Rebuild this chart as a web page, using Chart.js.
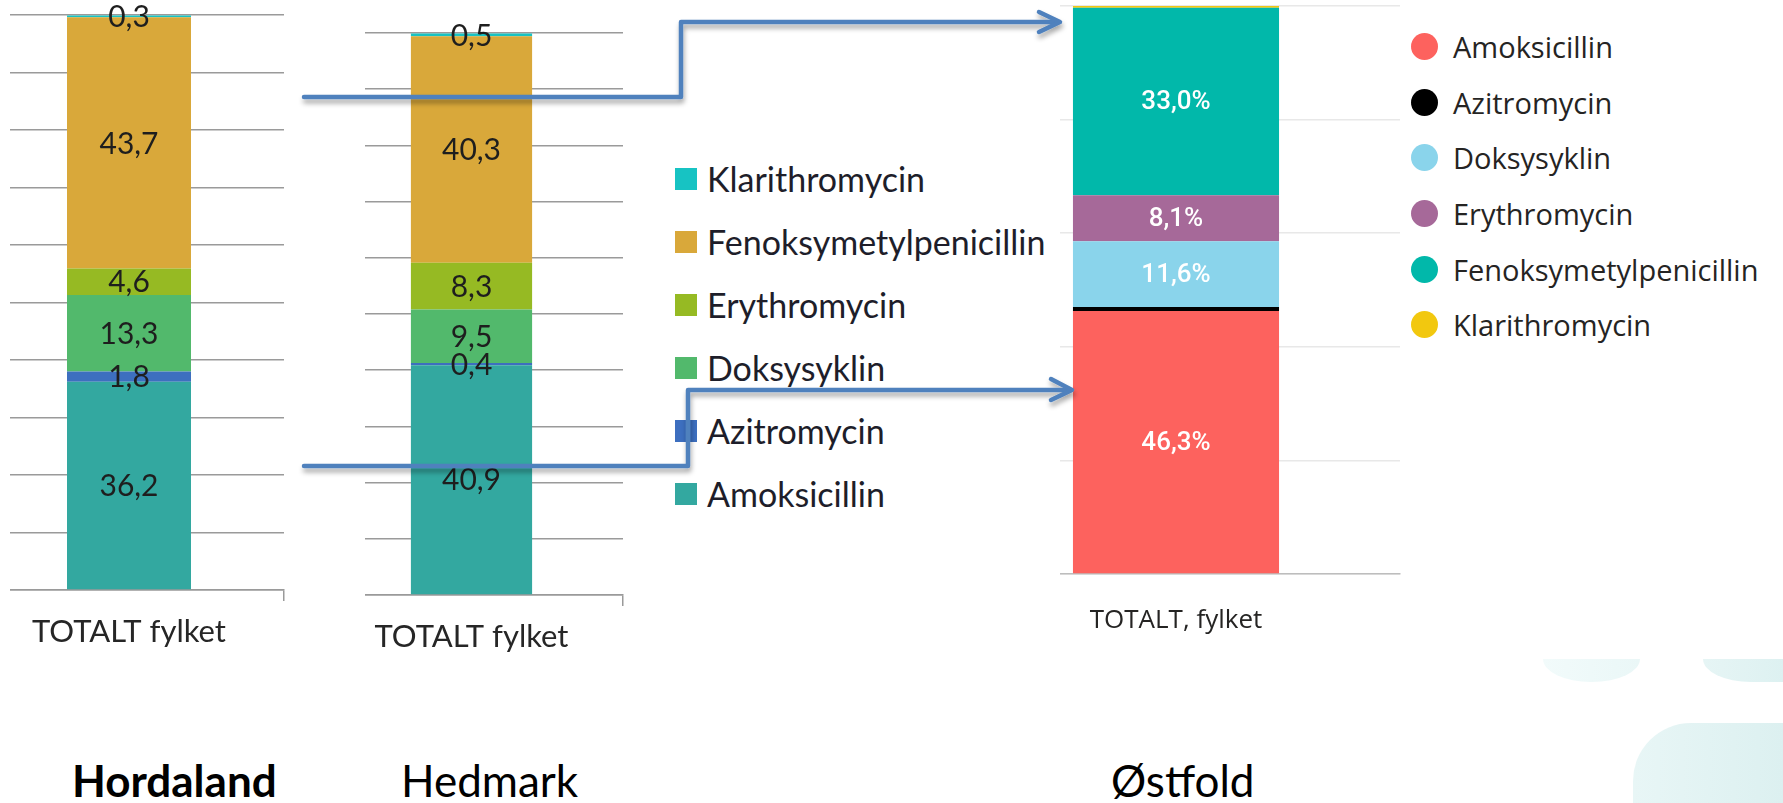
<!DOCTYPE html>
<html>
<head>
<meta charset="utf-8">
<script src="https://cdn.jsdelivr.net/npm/chart.js@4.4.1/dist/chart.umd.min.js"></script>
<style>
  html, body { margin: 0; padding: 0; background: #fff; }
  body { width: 1783px; height: 803px; position: relative; overflow: hidden; font-family: Lato, sans-serif; }
  .clip { position: absolute; top: 0; height: 680px; overflow: hidden; }
  .clip canvas { position: absolute; top: 0; }
  .deco { position: absolute; }
  .legend { position: absolute; }
  .legend .row { display: flex; align-items: center; white-space: nowrap; }
  .region { position: absolute; font-family: Lato, sans-serif; font-size: 44px; line-height: 44px; color: #000; }
</style>
</head>
<body>

<div class="deco" style="left:1543px;top:659px;width:97px;height:23px;background:linear-gradient(90deg,#f2fbfb,#eaf7f7);border-radius:0 0 48px 48px / 0 0 23px 23px;"></div>
<div class="deco" style="left:1703px;top:659px;width:80px;height:23px;background:linear-gradient(90deg,#e6f5f5,#ddf1f1);border-radius:0 0 0 48px / 0 0 0 23px;"></div>
<div class="deco" style="left:1633px;top:723px;width:150px;height:80px;background:linear-gradient(90deg,#e8f6f6,#dcf0f0);border-radius:58px 0 0 0;"></div>

<div class="clip" style="left:10px;width:290px;"><canvas id="hordaland" style="left:-36px;"></canvas></div>
<div class="clip" style="left:365px;width:275px;"><canvas id="hedmark" style="left:-45px;"></canvas></div>
<div class="clip" style="left:1060px;width:345px;"><canvas id="ostfold" style="left:-108px;"></canvas></div>

<div id="legendLeft" class="legend" style="left:675px;top:147px;"></div>
<div id="legendRight" class="legend" style="left:1411px;top:19px;"></div>

<div class="region" style="left:72px;top:758px;font-weight:bold;">Hordaland</div>
<div class="region" style="left:401px;top:758px;">Hedmark</div>
<div class="region" style="left:1111px;top:758px;">Østfold</div>

<svg width="1783" height="803" style="position:absolute;left:0;top:0;pointer-events:none">
  <defs>
    <filter id="sh" x="-5%" y="-50%" width="110%" height="200%">
      <feDropShadow dx="1" dy="4" stdDeviation="2.5" flood-color="#000" flood-opacity="0.35"/>
    </filter>
  </defs>
  <g filter="url(#sh)" stroke="#4f81bd" stroke-width="4.5" fill="none" stroke-linejoin="round" stroke-linecap="round">
    <polyline points="304,97 681,97 681,22 1058,22"/>
    <polyline points="1039,12 1060,22 1039,32"/>
    <polyline points="304,466 688,466 688,390 1070,390"/>
    <polyline points="1051,379 1072,390 1051,400"/>
  </g>
</svg>

<script>
// categories and series
const categoriesExcel = ['TOTALT fylket'];
const categoriesPbi = ['TOTALT, fylket'];
const drugs = ['Amoksicillin', 'Azitromycin', 'Doksysyklin', 'Erythromycin', 'Fenoksymetylpenicillin', 'Klarithromycin'];

// percent share per drug, same order as drugs
const hordalandValues = [36.2, 1.8, 13.3, 4.6, 43.7, 0.3];
const hedmarkValues = [40.9, 0.4, 9.5, 8.3, 40.3, 0.5];
const ostfoldValues = [46.3, 0.7, 11.6, 8.1, 33.0, 0.3];

// y axis ticks (not labelled in the picture, only gridlines)
const excelTicks = [0, 10, 20, 30, 40, 50, 60, 70, 80, 90, 100];
const pbiTicks = [0, 20, 40, 60, 80, 100];

const excelColors = ['#33a8a0', '#3d6fbf', '#52b96c', '#96ba23', '#d9a83a', '#17c3c3'];
const pbiColors = ['#fd625e', '#000000', '#8ad4eb', '#a66999', '#01b8aa', '#f2c80f'];

const comma = v => v.toFixed(1).replace('.', ',');

// draws the value in the middle of each stacked segment
const segmentLabels = {
  id: 'segmentLabels',
  afterDatasetsDraw(chart, args, opts) {
    const ctx = chart.ctx;
    ctx.save();
    ctx.font = opts.font;
    ctx.fillStyle = opts.color;
    ctx.textAlign = 'center';
    ctx.textBaseline = 'middle';
    chart.data.datasets.forEach((ds, i) => {
      chart.getDatasetMeta(i).data.forEach((bar, j) => {
        const v = ds.data[j];
        if (v < opts.min) return;
        ctx.fillText(opts.format(v), bar.x, (bar.y + bar.base) / 2 + opts.dy);
      });
    });
    ctx.restore();
  }
};

function makeChart(id, w, h, cfg) {
  const el = document.getElementById(id);
  el.width = w; el.height = h;
  el.style.width = w + 'px'; el.style.height = h + 'px';
  new Chart(el, {
    type: 'bar',
    data: {
      labels: cfg.labels,
      datasets: drugs.map((d, i) => ({
        label: d,
        data: [cfg.values[i]],
        backgroundColor: cfg.colors[i],
        borderWidth: 0,
        barPercentage: cfg.barPct,
        categoryPercentage: 1
      }))
    },
    options: {
      responsive: false,
      animation: false,
      events: [],
      layout: { padding: cfg.padding },
      plugins: {
        legend: { display: false },
        tooltip: { enabled: false },
        segmentLabels: cfg.labelOpts
      },
      scales: {
        x: {
          stacked: true,
          border: { display: true, color: cfg.axisColor, width: 1.5 },
          grid: {
            drawOnChartArea: false,
            drawTicks: cfg.drawTicks,
            tickLength: 11,
            color: cfg.axisColor,
            lineWidth: 1.5
          },
          ticks: {
            color: cfg.catColor,
            font: cfg.catFont,
            padding: cfg.catPadding,
            maxRotation: 0
          },
          afterFit: s => { s.height = cfg.xHeight; }
        },
        y: {
          stacked: true,
          min: 0,
          max: 100,
          afterBuildTicks: s => { s.ticks = cfg.ticks.map(v => ({ value: v })); },
          border: { display: false },
          grid: { color: cfg.gridColor, lineWidth: 1.5, drawTicks: false },
          ticks: { display: false },
          afterFit: s => { s.width = 0; }
        }
      }
    },
    plugins: [segmentLabels]
  });
}

const excelLabelOpts = { font: '30px Lato', color: '#1e1e1e', min: 0, dy: 1, format: comma };

makeChart('hordaland', 326, 680, {
  labels: categoriesExcel, values: hordalandValues, colors: excelColors,
  barPct: 0.4, padding: { left: 0, right: 16, top: 15, bottom: 0 },
  xHeight: 90, drawTicks: true, catPadding: 12, catFont: { family: 'Lato', size: 31 },
  catColor: '#262626', axisColor: '#9a9a9a', gridColor: '#9a9a9a',
  ticks: excelTicks, labelOpts: excelLabelOpts
});

makeChart('hedmark', 320, 680, {
  labels: categoriesExcel, values: hedmarkValues, colors: excelColors,
  barPct: 0.4, padding: { left: 0, right: 17, top: 33, bottom: 0 },
  xHeight: 85, drawTicks: true, catPadding: 12, catFont: { family: 'Lato', size: 31 },
  catColor: '#262626', axisColor: '#9a9a9a', gridColor: '#9a9a9a',
  ticks: excelTicks, labelOpts: excelLabelOpts
});

makeChart('ostfold', 453, 680, {
  labels: categoriesPbi, values: ostfoldValues, colors: pbiColors,
  barPct: 0.46, padding: { left: 0, right: 5, top: 6, bottom: 0 },
  xHeight: 106, drawTicks: false, catPadding: 31, catFont: { family: 'Open Sans', size: 26 },
  catColor: '#252423', axisColor: '#bdbdbd', gridColor: '#e8e8e8',
  ticks: pbiTicks,
  labelOpts: { font: '500 26px Roboto', color: '#ffffff', min: 2, dy: 1, format: v => comma(v) + '%' }
});

// legends built from the same arrays
const legendLeft = document.getElementById('legendLeft');
drugs.map((d, i) => i).reverse().forEach(i => {
  const row = document.createElement('div');
  row.className = 'row';
  row.style.height = '63px';
  row.innerHTML = '<span style="display:inline-block;width:22px;height:22px;background:' + excelColors[i] +
    ';margin-right:10px"></span><span style="font:34px Lato;color:#1e1e2a">' + drugs[i] + '</span>';
  legendLeft.appendChild(row);
});

const legendRight = document.getElementById('legendRight');
drugs.forEach((d, i) => {
  const row = document.createElement('div');
  row.className = 'row';
  row.style.height = '55.6px';
  row.innerHTML = '<span style="display:inline-block;width:27px;height:27px;border-radius:50%;background:' + pbiColors[i] +
    ';margin-right:15px"></span><span style="font:29px \'Open Sans\';color:#252423">' + d + '</span>';
  legendRight.appendChild(row);
});
</script>
</body>
</html>
